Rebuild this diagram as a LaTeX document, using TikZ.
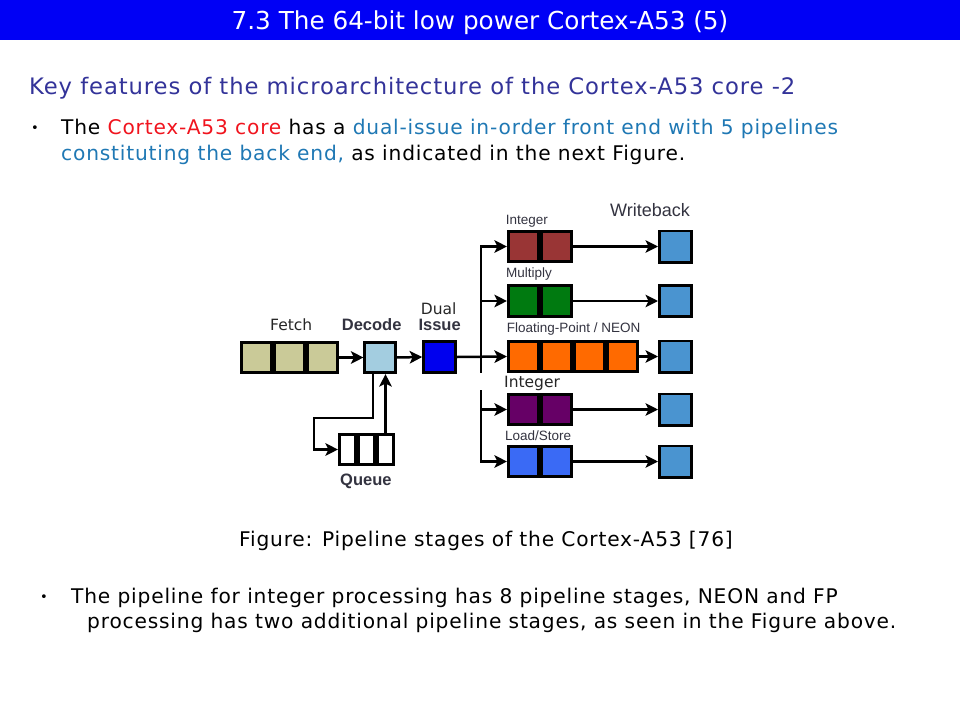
\documentclass[tikz,border=0pt]{standalone}
\usepackage{fontspec}
\setmainfont{DejaVu Sans}
\newfontfamily\slidefont[LetterSpace=4]{DejaVu Sans}
\newfontfamily\figfont{Liberation Sans}
\usepackage{tikz}
\usetikzlibrary{arrows.meta, positioning, calc}
\definecolor{TitleBlue}{HTML}{0000F5}
\definecolor{HeadNavy}{HTML}{333399}
\definecolor{KeyRed}{HTML}{F0141E}
\definecolor{KeyBlue}{HTML}{1F78B4}
\definecolor{FetchKhaki}{HTML}{CACA98}
\definecolor{DecodeBlue}{HTML}{A3CDE0}
\definecolor{IssueBlue}{HTML}{0000EE}
\definecolor{IntRed}{HTML}{993535}
\definecolor{MulGreen}{HTML}{007A10}
\definecolor{FpOrange}{HTML}{FF6A00}
\definecolor{IntPurple}{HTML}{660066}
\definecolor{LsBlue}{HTML}{3A6AF5}
\definecolor{WbBlue}{HTML}{4A94D0}
\definecolor{LabelGray}{HTML}{333340}
\tikzset{
  cellbox/.style={rectangle, draw=black, line width=2.6pt, minimum width=30.5pt, minimum height=30.5pt, inner sep=0pt},
  queuebox/.style={cellbox, fill=white, minimum width=16.5pt},
  wbbox/.style={cellbox, fill=WbBlue, minimum width=32.4pt, minimum height=31.4pt},
  arrow/.style={-{Stealth[length=12.5pt,width=12.5pt,inset=3pt]}, line width=2.5pt, black},
  busline/.style={line width=2.5pt, black},
  figlabel/.style={font=\figfont\fontsize{13.5}{15}\selectfont, text=LabelGray, anchor=base west, inner sep=0pt},
  boldlabel/.style={font=\figfont\bfseries\fontsize{16.5}{18}\selectfont, text=LabelGray, anchor=base west, inner sep=0pt},
  overlabel/.style={font=\fontsize{15.5}{17}\selectfont, text=black!85, anchor=base west, inner sep=0pt},
  bodytext/.style={font=\slidefont\fontsize{20.2}{24}\selectfont, anchor=base west, inner sep=0pt},
  bulletdot/.style={font=\fontsize{13}{14}\selectfont, anchor=base west, inner sep=0pt}
}
\begin{document}
\begin{tikzpicture}[x=1pt, y=-1pt]
  \useasboundingbox (0,0) rectangle (960,720);

  % Title bar
  \fill[TitleBlue] (0,0) rectangle (960,40);
  \node[font=\fontsize{24.7}{28}\selectfont, text=white, anchor=base, inner sep=0pt] (title) at (480,29) {7.3 The 64-bit low power Cortex-A53 (5)};

  % Heading and first bullet
  \node[font=\slidefont\fontsize{22.7}{26}\selectfont, text=HeadNavy, anchor=base west, inner sep=0pt] (heading) at (29,94) {Key features of the microarchitecture of the Cortex-A53 core -2};
  \node[bulletdot] (dot1) at (31,132) {\textbullet};
  \node[bodytext] (line1a) at (61,134) {The \textcolor{KeyRed}{Cortex-A53 core} has a \textcolor{KeyBlue}{dual-issue in-order front end with 5 pipelines}};
  \node[bodytext] (line1b) at (61,160) {\textcolor{KeyBlue}{constituting the back end,} as indicated in the next Figure.};

  % Front end
  \foreach \i in {0,1,2}
    \node[cellbox, fill=FetchKhaki] (fetch\i) at (256.5+33*\i,357.5) {};
  \node[cellbox, fill=DecodeBlue] (dec) at (380,357.5) {};
  \node[cellbox, fill=IssueBlue, minimum width=32pt] (issue) at (439.5,357) {};
  \foreach \i in {0,1,2}
    \node[queuebox] (queue\i) at (347.5+19*\i,449.5) {};

  % Back end pipelines and writeback
  \foreach \nm/\col/\yy/\n in {int/IntRed/246.5/1, mul/MulGreen/301/1, fp/FpOrange/356.5/3, alu/IntPurple/409.5/1, ls/LsBlue/461.5/1} {
    \foreach \i in {0,...,\n}
      \node[cellbox, fill=\col] (\nm\i) at (523.5+33*\i,\yy) {};
    \node[wbbox] (wb\nm) at (675.5,\yy) {};
    \draw[arrow] (\nm\n.east) -- (wb\nm.west);
  }

  % Connectors
  \coordinate (bustop) at (481,245.3);
  \coordinate (gaptop) at (481,373);
  \coordinate (gapbot) at (481,390);
  \coordinate (busbot) at (481,462.7);
  \coordinate (qbend) at (314,418);
  \draw[arrow] (fetch2.east) -- (dec.west);
  \draw[arrow] (dec.east) -- (issue.west);
  \draw[arrow] (issue.east) -- (fp0.west);
  \draw[busline] (bustop) -- (gaptop);
  \draw[busline] (gapbot) -- (busbot);
  \foreach \nm in {int,mul,alu,ls}
    \draw[arrow] (\nm0.west -| bustop) -- (\nm0.west);
  \draw[arrow] ([xshift=-7pt]dec.south) |- (qbend) |- (queue0.west);
  \draw[arrow] (queue2.north) -- (queue2.north |- dec.south);

  % Labels
  \node[overlabel] (fetchlbl) at (270,330) {Fetch};
  \node[boldlabel] (declbl) at (341.7,330.7) {Decode};
  \node[overlabel] (duallbl) at (420.7,314) {Dual};
  \node[boldlabel] (issuelbl) at (418.3,330.7) {Issue};
  \node[boldlabel] (queuelbl) at (340,485) {Queue};
  \node[figlabel, font=\figfont\fontsize{18}{20}\selectfont] (wblbl) at (610,216) {Writeback};
  \node[figlabel] (intlbl) at (505.7,224) {Integer};
  \node[figlabel] (mullbl) at (506,277) {Multiply};
  \node[figlabel] (fplbl) at (506.7,332.7) {Floating-Point / NEON};
  \node[overlabel] (alulbl) at (504,387.3) {Integer};
  \node[figlabel] (lslbl) at (505,440) {Load/Store};

  % Caption and second bullet
  \node[bodytext, anchor=base] (caption) at (486,546) {Figure: Pipeline stages of the Cortex-A53 [76]};
  \node[bulletdot] (dot2) at (40,601) {\textbullet};
  \node[bodytext] (line2a) at (71,603) {The pipeline for integer processing has 8 pipeline stages, NEON and FP};
  \node[bodytext] (line2b) at (87,628) {processing has two additional pipeline stages, as seen in the Figure above.};
\end{tikzpicture}
\end{document}
